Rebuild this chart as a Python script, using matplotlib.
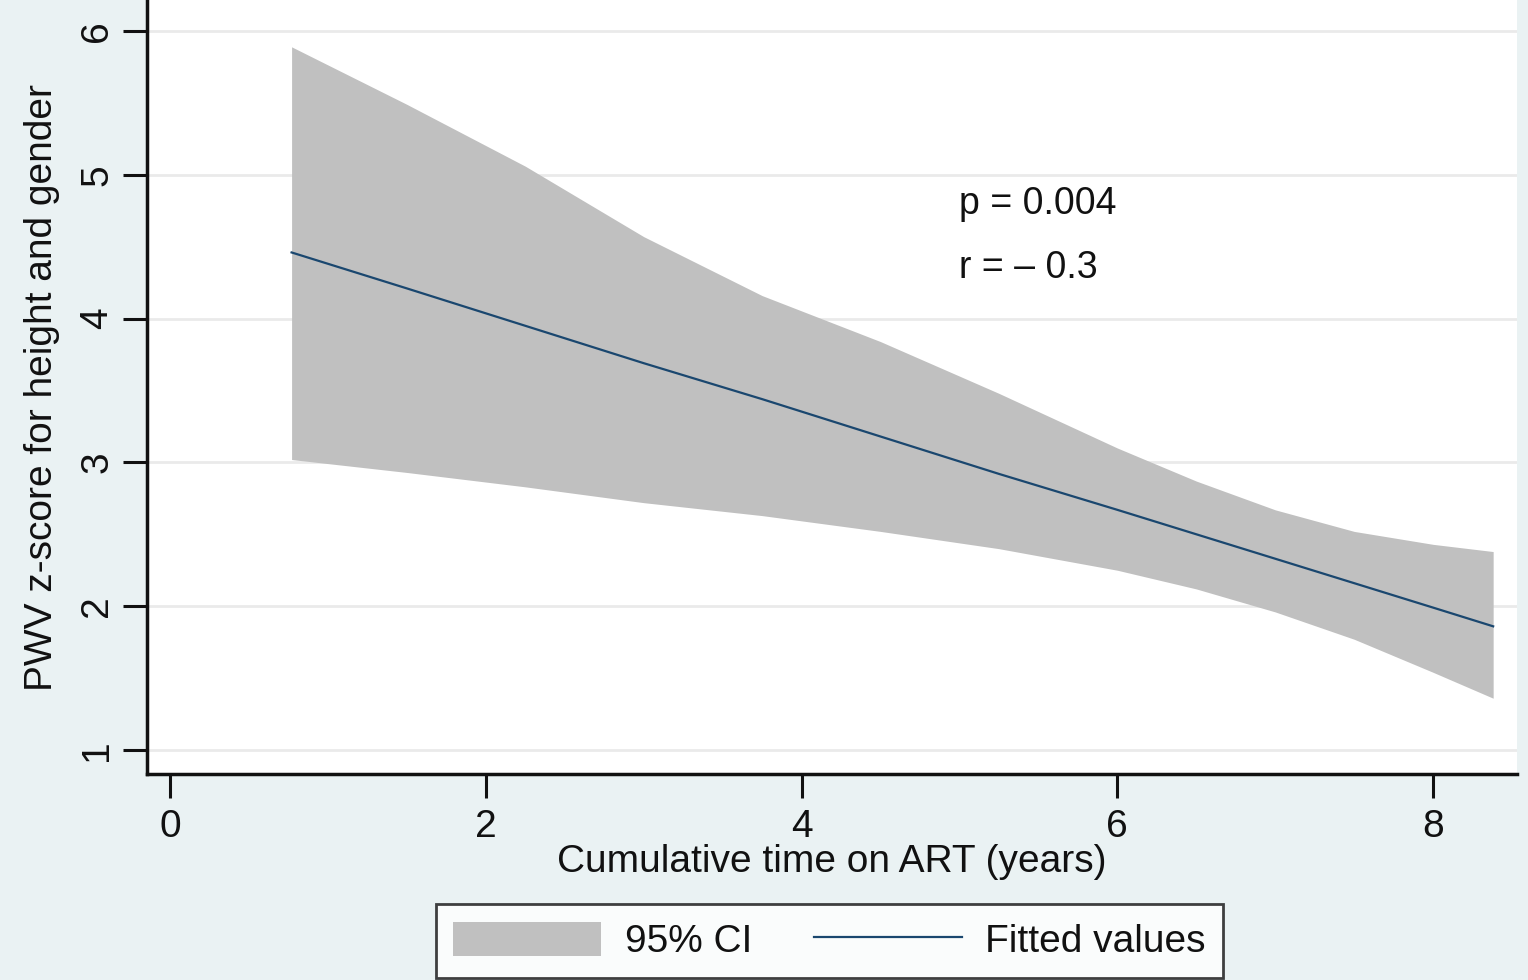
import matplotlib
matplotlib.use("Agg")
import matplotlib.pyplot as plt
from matplotlib.patches import Patch
from matplotlib.lines import Line2D

# ---- data ----
x_years = [0.77, 1.5, 2.25, 3.0, 3.75, 4.5, 5.25, 6.0, 6.5, 7.0, 7.5, 8.0, 8.38]
ci_upper = [5.89, 5.49, 5.06, 4.57, 4.16, 3.84, 3.48, 3.10, 2.87, 2.67, 2.52, 2.43, 2.38]
ci_lower = [3.02, 2.93, 2.83, 2.72, 2.63, 2.52, 2.40, 2.25, 2.12, 1.96, 1.77, 1.54, 1.36]
fitted = [4.46, 4.21, 3.95, 3.69, 3.44, 3.18, 2.92, 2.67, 2.50, 2.33, 2.16, 1.99, 1.86]
x_ticks = [0, 2, 4, 6, 8]
y_ticks = [1, 2, 3, 4, 5, 6]
annot_lines = ["p = 0.004", "r = \u2013 0.3"]
legend_labels = ["95% CI", "Fitted values"]
x_label = "Cumulative time on ART (years)"
y_label = "PWV z-score for height and gender"

# ---- style ----
bg = "#EAF2F3"
band_col = "#C0C0C0"
line_col = "#1A476F"
grid_col = "#EAEAEA"
txt = "#111111"
fs = 28
plt.rcParams["font.family"] = ["Liberation Sans", "DejaVu Sans"]

W, H = 1528, 980
fig = plt.figure(figsize=(W / 100, H / 100), dpi=100, facecolor=bg)
ax = fig.add_axes([147 / W, 1 - 774 / H, (1517 - 147) / W, 774 / H])
ax.set_facecolor("white")

ax.set_xlim(-0.1457, 8.531)
ax.set_ylim(0.833, 6.2156)

for yt in y_ticks:
    ax.axhline(yt, color=grid_col, lw=2, zorder=0)

ax.fill_between(x_years, ci_lower, ci_upper, color=band_col, lw=0, zorder=2)
ax.plot(x_years, fitted, color=line_col, lw=1.6, zorder=3)

ax.set_xticks(x_ticks)
ax.set_yticks(y_ticks)
ax.set_xticklabels([str(v) for v in x_ticks], fontsize=fs, color=txt)
ax.set_yticklabels([str(v) for v in y_ticks], fontsize=fs, color=txt,
                   rotation=90, va="center")
ax.tick_params(axis="both", direction="out", length=17, width=2.2, color="#111111")
ax.tick_params(axis="x", pad=8.5)
ax.tick_params(axis="y", pad=6)

for s in ["top", "right"]:
    ax.spines[s].set_visible(False)
for s in ["left", "bottom"]:
    ax.spines[s].set_linewidth(2.5)
    ax.spines[s].set_color("#111111")

ax.set_xlabel(x_label, fontsize=fs, color=txt, labelpad=-1)
ax.set_ylabel(y_label, fontsize=fs, color=txt, labelpad=14)

ax.text(5.0, 4.80, annot_lines[0], fontsize=27, color=txt, ha="left", va="center")
ax.text(5.0, 4.35, annot_lines[1], fontsize=27, color=txt, ha="left", va="center")

handles = [Patch(facecolor=band_col, edgecolor="none"),
           Line2D([0], [0], color=line_col, lw=1.6)]
leg = fig.legend(handles, legend_labels, loc="center",
                 bbox_to_anchor=(829.5 / W, 1 - 941 / H), ncol=2,
                 fontsize=fs, frameon=True, fancybox=False,
                 handlelength=3.8, handleheight=1.0, handletextpad=0.6,
                 columnspacing=1.6, borderpad=0.45, borderaxespad=0)
leg.get_frame().set_edgecolor("#111111")
leg.get_frame().set_linewidth(2)
leg.get_frame().set_facecolor("white")
for t in leg.get_texts():
    t.set_color(txt)

fig.savefig("out.png", dpi=100, facecolor=bg)
